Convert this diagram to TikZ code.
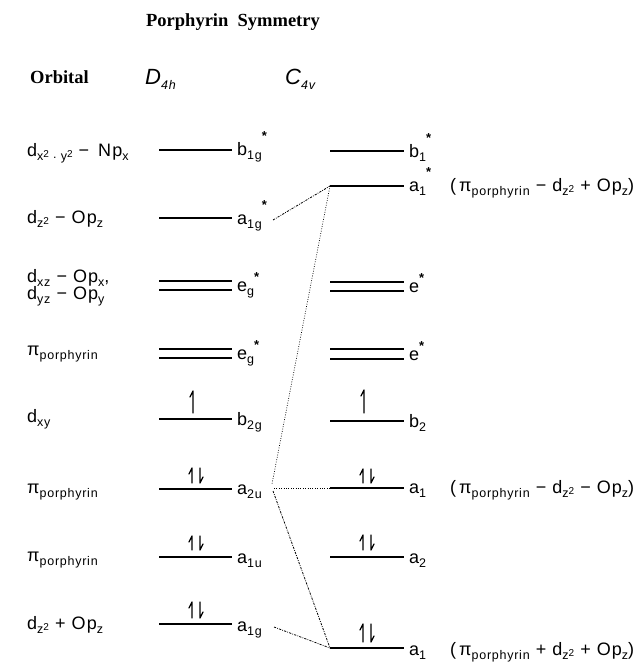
\documentclass[tikz,border=0pt]{standalone}
\usepackage{fontspec}
\setmainfont{Liberation Sans}[LetterSpace=6]
\newfontfamily\titf{Liberation Serif}
\newcommand\sbx[1]{\raisebox{-0.45ex}{\fontsize{12.5}{12.5}\selectfont #1}}
\newcommand\spx[1]{\raisebox{0.45ex}{\fontsize{10}{10}\selectfont #1}}
\newcommand\stx{\raisebox{1.5ex}{\fontsize{13}{13}\selectfont\bfseries *}}
\newcommand\sty{\raisebox{1.0ex}{\fontsize{13}{13}\selectfont\bfseries *}}
\begin{document}
\begin{tikzpicture}[x=1pt,y=-1pt,
  every node/.style={inner sep=0pt, font=\fontsize{18}{18}\selectfont},
  lvl/.style={line width=1.8pt},
  lvlthick/.style={line width=2.8pt},
  lab/.style={anchor=base west},
  conndot/.style={line width=0.7pt, dash pattern=on 0.8pt off 1.6pt},
  conndash/.style={line width=0.8pt, dash pattern=on 2.2pt off 1.2pt on 0.8pt off 1.2pt},
  spin/.style={line width=1.2pt, line cap=round},
  head/.style={font=\titf\bfseries\fontsize{18.5}{18.5}\selectfont}]
\useasboundingbox (0,0) rectangle (644,667);

% headings
\node[head] (title) at (233,22) {Porphyrin\ \ Symmetry};
\node[head, anchor=base west] (orb) at (30,83) {Orbital};
\node[anchor=base west, font=\itshape\fontsize{22}{22}\selectfont] (dfh) at (145,84) {D\sbx{4h}};
\node[anchor=base west, font=\itshape\fontsize{22}{22}\selectfont] (cfv) at (285,84) {C\sbx{4v}};

% ---- D4h levels (x 159 -- 232)
\foreach \n/\y in {db1/150, da1s/218, da2u/489, da1u/557, db2/419, da1g/624}{
  \coordinate (\n L) at (159,\y); \coordinate (\n R) at (232,\y);
  \draw[lvl] (\n L) -- (\n R);}
\foreach \n/\y in {de1/281, de1b/290, de2/349, de2b/358}{
  \coordinate (\n L) at (159,\y); \coordinate (\n R) at (232,\y);
  \draw[lvl] (\n L) -- (\n R);}
\node[lab] (tdb1) at ([shift={(5,5)}]db1R) {b\sbx{1g}\stx};
\node[lab] (tda1s) at ([shift={(5,6)}]da1sR) {a\sbx{1g}\stx};
\node[lab] (tde1) at ([shift={(5,10)}]de1R) {e\sbx{g}\sty};
\node[lab] (tde2) at ([shift={(5,10)}]de2R) {e\sbx{g}\sty};
\node[lab] (tdb2) at ([shift={(5,6)}]db2R) {b\sbx{2g}};
\node[lab] (tda2u) at ([shift={(5,5)}]da2uR) {a\sbx{2u}};
\node[lab] (tda1u) at ([shift={(5,6)}]da1uR) {a\sbx{1u}};
\node[lab] (tda1g) at ([shift={(5,7)}]da1gR) {a\sbx{1g}};

% ---- C4v levels (x 330 -- 404)
\foreach \n/\y in {cb1/151, cb2/421, ca1m/488, ca2/557}{
  \coordinate (\n L) at (330,\y); \coordinate (\n R) at (404,\y);
  \draw[lvl] (\n L) -- (\n R);}
\foreach \n/\y in {ce1/282, ce1b/291, ce2/349, ce2b/359}{
  \coordinate (\n L) at (330,\y); \coordinate (\n R) at (404,\y);
  \draw[lvl] (\n L) -- (\n R);}
\foreach \n/\y in {ca1s/186, ca1b/648}{
  \coordinate (\n L) at (330,\y); \coordinate (\n R) at (404,\y);
  \draw[lvlthick] (\n L) -- (\n R);}
\node[lab] (tcb1) at ([shift={(5,6)}]cb1R) {b\sbx{1}\stx};
\node[lab] (tca1s) at ([shift={(5,5)}]ca1sR) {a\sbx{1}\stx};
\node[lab] (tce1) at ([shift={(5,10)}]ce1R) {e\sty};
\node[lab] (tce2) at ([shift={(5,11)}]ce2R) {e\sty};
\node[lab] (tcb2) at ([shift={(5,6)}]cb2R) {b\sbx{2}};
\node[lab] (tca1m) at ([shift={(5,5)}]ca1mR) {a\sbx{1}};
\node[lab] (tca2) at ([shift={(5,6)}]ca2R) {a\sbx{2}};
\node[lab] (tca1b) at ([shift={(5,7)}]ca1bR) {a\sbx{1}};

% ---- right-hand descriptions
\node[lab] (r1) at (450,191) {(\,π\sbx{porphyrin} − d\sbx{z\spx{2}} + Op\sbx{z})};
\node[lab] (r2) at (450,493) {(\,π\sbx{porphyrin} − d\sbx{z\spx{2}} − Op\sbx{z})};
\node[lab] (r3) at (450,655) {(\,π\sbx{porphyrin} + d\sbx{z\spx{2}} + Op\sbx{z})};

% ---- left orbital labels
\node[lab] (o1) at (27,156) {d\sbx{x\spx{2}\,\,\raisebox{0.3ex}{.}\,\,y\spx{2}}\,\,− \,Np\sbx{x}};
\node[lab] (o2) at (27,223) {d\sbx{z\spx{2}} − Op\sbx{z}};
\node[lab] (o3) at (27,282) {d\sbx{xz} − Op\sbx{x},};
\node[lab] (o4) at (27,299) {d\sbx{yz} − Op\sbx{y}};
\node[lab] (o5) at (27,355) {π\sbx{porphyrin}};
\node[lab] (o6) at (27,422) {d\sbx{xy}};
\node[lab] (o7) at (27,493) {π\sbx{porphyrin}};
\node[lab] (o8) at (27,561) {π\sbx{porphyrin}};
\node[lab] (o9) at (27,629) {d\sbx{z\spx{2}} + Op\sbx{z}};

% ---- electrons (half arrows)
\foreach \x/\a/\b in {193/391/413, 364/390/413}{
  \draw[spin] (\x,\a) -- (\x,\b) (\x,\a) -- (\x-3,\a+6);}
\foreach \x/\a/\b in {192/468/483, 192/536/550, 192/602/618, 363/469/483, 363/535/550, 363/624/642}{
  \draw[spin] (\x,\a) -- (\x,\b) (\x,\a) -- (\x-3,\a+6);
  \draw[spin] (\x+8,\a) -- (\x+8,\b) (\x+8,\b) -- (\x+11,\b-6);}

% ---- correlation connectors
\coordinate (s1) at (273,220);
\coordinate (s2) at (272,484);
\coordinate (s3) at (274,488);
\coordinate (s4) at (273,491);
\coordinate (s5) at (274,627);
\draw[conndash] (s1) -- (ca1sL);
\draw[conndot] (ca1sL) -- (s2);
\draw[conndot] (s3) -- (ca1mL);
\draw[conndash] (s4) -- (ca1bL);
\draw[conndash] (s5) -- (ca1bL);
\end{tikzpicture}
\end{document}
